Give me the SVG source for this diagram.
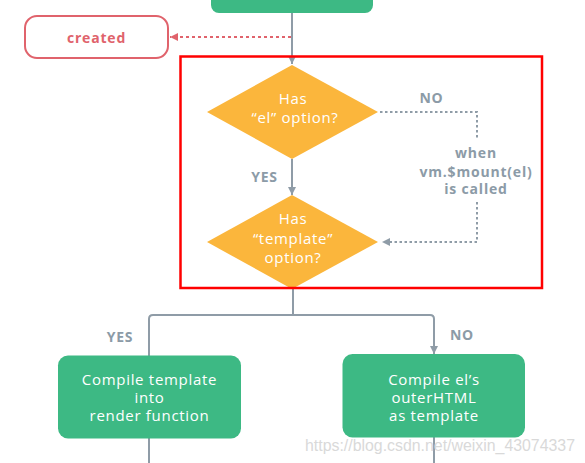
<svg xmlns="http://www.w3.org/2000/svg" width="585" height="463" viewBox="0 0 585 463">
<defs>
<style>
.green{fill:#3db984;}
.dia{fill:#fbb63c;}
.wt{fill:#ffffff;font-family:"Open Sans","Liberation Sans",sans-serif;font-size:15px;letter-spacing:0.7px;text-anchor:middle;dominant-baseline:central;}
.lbl{fill:#8c9ba7;font-family:"Open Sans","Liberation Sans",sans-serif;font-size:14px;font-weight:bold;letter-spacing:0.8px;text-anchor:middle;dominant-baseline:central;}
.conn{fill:none;stroke:#8f9ca7;stroke-width:2;}
.dot{fill:none;stroke:#8f9ca7;stroke-width:2;stroke-dasharray:2.5 2.5;}
.rdot{fill:none;stroke:#e0636c;stroke-width:2.2;stroke-dasharray:3 3;}
</style>
<marker id="ag" viewBox="0 0 8 8" refX="8" refY="4" markerWidth="8" markerHeight="8" markerUnits="userSpaceOnUse" orient="auto">
<path d="M0,0 L8,4 L0,8 z" fill="#8f9ca7"/>
</marker>
<marker id="ar" viewBox="0 0 8 8" refX="8" refY="4" markerWidth="8" markerHeight="8" markerUnits="userSpaceOnUse" orient="auto">
<path d="M0,0 L8,4 L0,8 z" fill="#e0636c"/>
</marker>
</defs>
<rect width="585" height="463" fill="#ffffff"/>

<g id="connectors">
<path class="conn" d="M292,13 V64" marker-end="url(#ag)"/>
<path class="rdot" d="M291,37 H170" marker-end="url(#ar)"/>
<path class="conn" d="M292,159 V195" marker-end="url(#ag)"/>
<path class="dot" d="M380,112 H477 V138"/>
<path class="dot" d="M477,202 V242 H382" marker-end="url(#ag)"/>
<path class="conn" d="M293,288 V315"/>
<path class="conn" d="M149,356 V319 Q149,315 153,315 H430 Q434,315 434,319 V354" marker-start="url(#ag)" marker-end="url(#ag)"/>
<path class="conn" d="M149,438 V463"/>
<path class="conn" d="M434,437 V463"/>
</g>

<g id="node-top">
<rect class="green" x="211" y="-20" width="162" height="33" rx="8"/>
</g>

<g id="node-created">
<rect x="25" y="16" width="143" height="42" rx="12" fill="#ffffff" stroke="#e0636c" stroke-width="2"/>
<text x="96.5" y="37" font-family="'Open Sans','Liberation Sans',sans-serif" font-size="14" font-weight="bold" letter-spacing="0.8" fill="#e0636c" text-anchor="middle" dominant-baseline="central">created</text>
</g>

<g id="node-has-el">
<polygon class="dia" points="292,65 378,112 292,159 207,112"/>
<text class="wt" x="293" y="98">Has</text>
<text class="wt" x="295" y="117">“el” option?</text>
</g>

<g id="node-has-template">
<polygon class="dia" points="292,195 378,242 292,289 207,242"/>
<text class="wt" x="293" y="218">Has</text>
<text class="wt" x="293" y="238">“template”</text>
<text class="wt" x="293" y="257">option?</text>
</g>

<g id="labels">
<text class="lbl" x="264.5" y="176">YES</text>
<text class="lbl" x="431.5" y="97">NO</text>
<text class="lbl" x="476"><tspan x="476" y="152">when</tspan><tspan x="476" y="170.5">vm.$mount(el)</tspan><tspan x="476" y="188">is called</tspan></text>
<text class="lbl" x="120" y="336">YES</text>
<text class="lbl" x="462" y="334">NO</text>
</g>

<g id="node-compile-template">
<rect class="green" x="58" y="355.5" width="183" height="83" rx="10"/>
<text class="wt" x="149.5" y="378.5">Compile template</text>
<text class="wt" x="149.5" y="396.5">into</text>
<text class="wt" x="149.5" y="414.5">render function</text>
</g>

<g id="node-compile-el">
<rect class="green" x="342.5" y="354" width="182.5" height="83.5" rx="10"/>
<text class="wt" x="434" y="378.5">Compile el’s</text>
<text class="wt" x="434" y="396.5">outerHTML</text>
<text class="wt" x="434" y="415">as template</text>
</g>

<rect id="highlight" x="180.5" y="56.5" width="361.5" height="231.5" fill="none" stroke="#ff0000" stroke-width="2.5"/>

<text x="305" y="445" font-family="'Liberation Sans',Arial,sans-serif" font-size="16" fill="#d9d9d9" dominant-baseline="central" textLength="270" lengthAdjust="spacingAndGlyphs">https://blog.csdn.net/weixin_43074337</text>
</svg>
